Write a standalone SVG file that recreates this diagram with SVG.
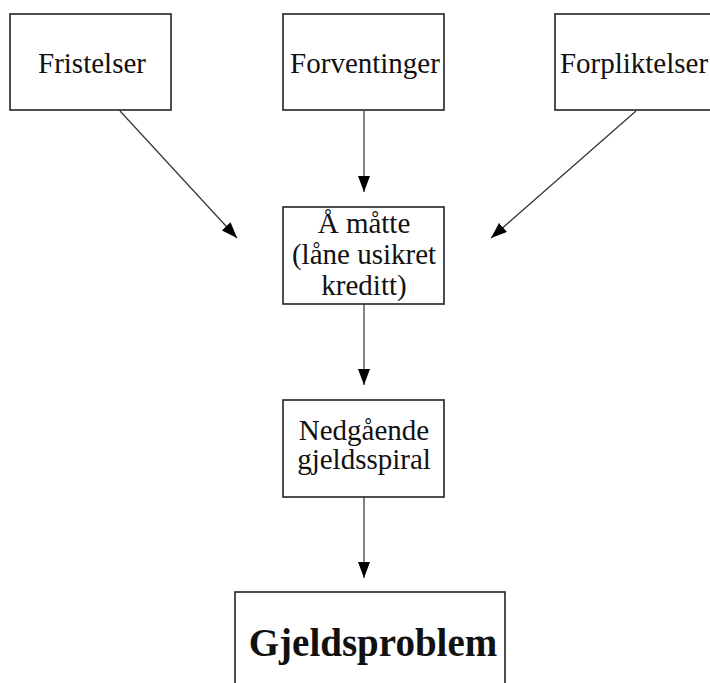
<svg xmlns="http://www.w3.org/2000/svg" width="710" height="683" viewBox="0 0 710 683">
<style>
.box{fill:#fff;stroke:#222;stroke-width:1.6}
.t{font-family:"Liberation Serif","Times New Roman",serif;font-size:29px;fill:#111;text-anchor:middle}
.b{font-weight:bold;font-size:39px}
.c{stroke:#333;stroke-width:1.2;fill:none;marker-end:url(#ah)}
</style>
<defs>
<marker id="ah" markerWidth="16" markerHeight="12" refX="16" refY="6" orient="auto" markerUnits="userSpaceOnUse">
<path d="M0,0 L16,6 L0,12 Z" fill="#000"/>
</marker>
</defs>
<rect width="710" height="683" fill="#fff"/>
<g id="connectors">
<line class="c" x1="120" y1="111" x2="237" y2="238"/>
<line class="c" x1="364" y1="111" x2="364" y2="192"/>
<line class="c" x1="636" y1="111" x2="491" y2="238"/>
<line class="c" x1="364" y1="304" x2="364" y2="385"/>
<line class="c" x1="364" y1="497" x2="364" y2="578"/>
</g>
<g id="fristelser">
<rect class="box" x="10" y="14" width="161" height="96"/>
<text class="t" x="92" y="73">Fristelser</text>
</g>
<g id="forventinger">
<rect class="box" x="283" y="14" width="161" height="96"/>
<text class="t" x="365" y="73">Forventinger</text>
</g>
<g id="forpliktelser">
<rect class="box" x="555" y="14" width="161" height="96"/>
<text class="t" x="634" y="73">Forpliktelser</text>
</g>
<g id="aa-maatte">
<rect class="box" x="283" y="207" width="161" height="97"/>
<text class="t" x="364" y="233">Å måtte</text>
<text class="t" x="364" y="264">(låne usikret</text>
<text class="t" x="364" y="295">kreditt)</text>
</g>
<g id="nedgaaende">
<rect class="box" x="283" y="400" width="161" height="97"/>
<text class="t" x="364" y="440">Nedgående</text>
<text class="t" x="364" y="469">gjeldsspiral</text>
</g>
<g id="gjeldsproblem">
<rect class="box" x="235" y="592" width="270" height="100"/>
<text class="t b" x="373" y="656">Gjeldsproblem</text>
</g>
</svg>
